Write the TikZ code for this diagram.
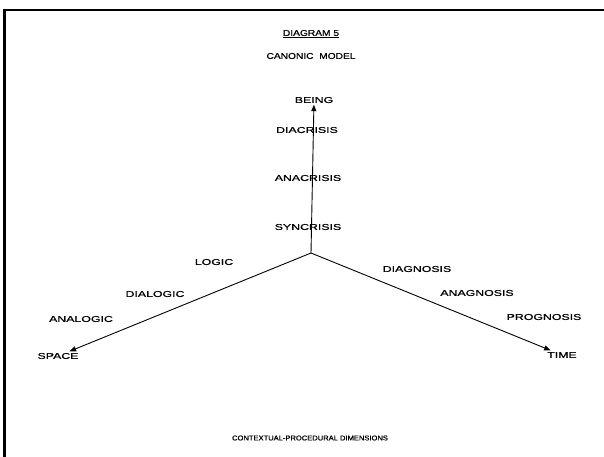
\documentclass[tikz,border=0pt]{standalone}
\usepackage{fontspec}
\setmainfont{Liberation Sans}
\newfontfamily\labelfont[FakeStretch=1.45,FakeBold=0.8]{Liberation Sans}
\newfontfamily\titlefont[FakeStretch=1.2,FakeBold=0.8]{Liberation Sans}
\newfontfamily\footfont[FakeStretch=1.08,FakeBold=0.8]{Liberation Sans}
\usetikzlibrary{arrows.meta}
\usetikzlibrary{positioning}

\begin{document}
\begin{tikzpicture}[x=1pt,y=-1pt,
            lbl/.style = {font=\labelfont\fontsize{8.5}{10}\selectfont,
                inner sep=1.5pt},
            ttl/.style = {font=\titlefont\fontsize{8.5}{10}\selectfont,
                inner sep=1pt},
            axis/.style = {-{Triangle[length=6.5pt,width=5pt]},
                line width=0.9pt}]
            \useasboundingbox (0,0) rectangle (604,457);
            % frame (only top and left survive)
            \draw[line width=2.4pt] (4.5,457) -- (4.5,10) -- (604,10);
            % titles
            \node[ttl](title) at (311,34) {\underline{DIAGRAM 5}};
            \node[ttl](model) at (311,56) {CANONIC\ \ MODEL};
            \node[font=\footfont\fontsize{7}{8}\selectfont]
                (foot) at (310,438) {CONTEXTUAL-PROCEDURAL DIMENSIONS};
            % axis ends
            \coordinate (o) at (311,253);
            \node[lbl](being) at (314,100) {BEING};
            \node[lbl](space) at (58,356) {SPACE};
            \node[lbl](time) at (562,355) {TIME};
            % labels on the axes
            \node[lbl](dia) at (307,130) {DIACRISIS};
            \node[lbl](ana) at (308,178) {ANACRISIS};
            \node[lbl](syn) at (308,227) {SYNCRISIS};
            \node[lbl](logic) at (214,262) {LOGIC};
            \node[lbl](dialogic) at (155,294) {DIALOGIC};
            \node[lbl](analogic) at (81,319) {ANALOGIC};
            \node[lbl](diag) at (417,269) {DIAGNOSIS};
            \node[lbl](anag) at (477,293) {ANAGNOSIS};
            \node[lbl](prog) at (544,317) {PROGNOSIS};
            \path[axis]
                (o) edge (being)
                (o) edge (space)
                (o) edge (time);

        \end{tikzpicture}
\end{document}
